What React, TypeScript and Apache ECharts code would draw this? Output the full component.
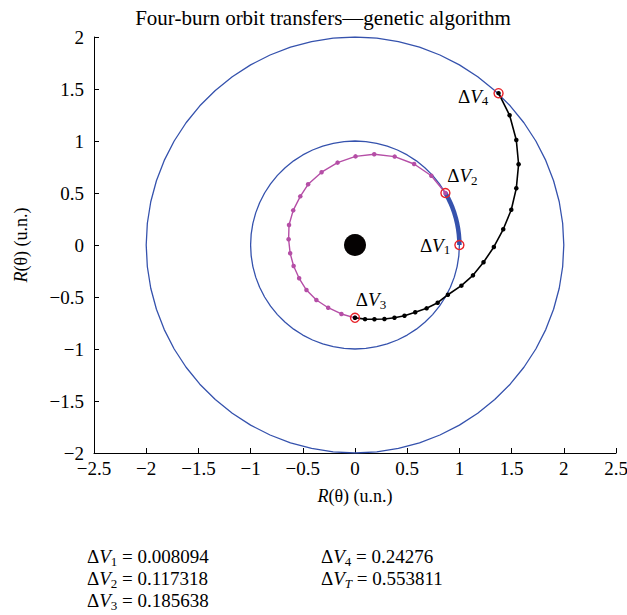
import React, { useEffect, useRef } from "react";
import * as echarts from "echarts";

// Orbits (radius, u.n.)
const orbitRadii = [1, 2];
// Initial coast arc on the inner orbit (degrees)
const coastAngles = [0, 30];

// First transfer (magenta)
const magX = [0.866, 0.731, 0.566, 0.38, 0.184, 0.005, -0.167, -0.32, -0.449, -0.524, -0.592, -0.632, -0.636, -0.621, -0.588, -0.535, -0.465, -0.37, -0.257, -0.13, 0];
const magY = [0.5, 0.666, 0.779, 0.85, 0.872, 0.852, 0.792, 0.7, 0.584, 0.468, 0.333, 0.192, 0.055, -0.08, -0.202, -0.32, -0.433, -0.529, -0.603, -0.663, -0.7];

// Second transfer (black)
const blkX = [0, 0.096, 0.186, 0.282, 0.378, 0.474, 0.577, 0.686, 0.792, 0.89, 1.019, 1.13, 1.231, 1.33, 1.42, 1.497, 1.545, 1.567, 1.545, 1.481, 1.375];
const blkY = [-0.7, -0.713, -0.714, -0.711, -0.699, -0.68, -0.647, -0.609, -0.555, -0.478, -0.391, -0.292, -0.166, -0.019, 0.151, 0.339, 0.545, 0.776, 1.01, 1.247, 1.46];

// Burn points
const burnNames = ["1", "2", "3", "4"];
const burnX = [1, 0.866, 0, 1.375];
const burnY = [0, 0.5, -0.7, 1.46];

// Delta-V results
const dvLabels = ["1", "2", "3", "4", "T"];
const dvValues = ["0.008094", "0.117318", "0.185638", "0.24276", "0.553811"];

const xTicks = { min: -2.5, max: 2.5, interval: 0.5 };
const yTicks = { min: -2, max: 2, interval: 0.5 };

const FONT = "Liberation Serif";
const INK = "#000";

function arcPoints(r: number, a0: number, a1: number, step: number) {
  const pts: number[][] = [];
  for (let a = a0; a <= a1 + 1e-9; a += step) {
    const t = (a * Math.PI) / 180;
    pts.push([r * Math.cos(t), r * Math.sin(t)]);
  }
  return pts;
}

const dvRich = {
  d: { fontFamily: FONT, fontSize: 19, color: INK, lineHeight: 22 },
  v: { fontFamily: FONT, fontSize: 19, fontStyle: "italic", color: INK, lineHeight: 22 },
  s: { fontFamily: FONT, fontSize: 13, color: INK, lineHeight: 10, verticalAlign: "bottom" },
  si: { fontFamily: FONT, fontSize: 13, fontStyle: "italic", color: INK, lineHeight: 10, verticalAlign: "bottom" },
  t: { fontFamily: FONT, fontSize: 19, color: INK, lineHeight: 22 },
};

function dvText(sub: string) {
  const subTok = sub === "T" ? "si" : "s";
  return `{d|Δ}{v|V}{${subTok}|${sub}}`;
}

const fmt = (v: number) => String(v).replace("-", "\u2212");

export default function App() {
  const ref = useRef<HTMLDivElement>(null);
  useEffect(() => {
    if (!ref.current) return;
    const chart = echarts.init(ref.current, undefined, { renderer: "svg" });

    const magData = magX.map((x, i) => [x, magY[i]]);
    const blkData = blkX.map((x, i) => [x, blkY[i]]);

    const labelPos: any[] = [
      { position: "left", distance: 4, offset: [0, 0] },
      { position: "top", distance: 1, offset: [17, 0] },
      { position: "top", distance: 2, offset: [16, 0] },
      { position: "left", distance: 5, offset: [0, 3] },
    ];

    const burnData = burnX.map((x, i) => ({
      value: [x, burnY[i]],
      label: {
        show: true,
        formatter: dvText(burnNames[i]),
        rich: dvRich,
        ...labelPos[i],
      },
    }));

    const orbitSeries = orbitRadii.map((r) => ({
      type: "line",
      data: arcPoints(r, 0, 360, 6),
      symbol: "none",
      lineStyle: { color: "#3552ad", width: 1.3 },
      z: 2,
      silent: true,
    }));

    const bottomTexts: any[] = dvLabels.map((s, i) => {
      const col = i < 3 ? 0 : 1;
      const row = i < 3 ? i : i - 3;
      return {
        type: "text",
        left: col === 0 ? 87 : 321,
        top: 547 + row * 22,
        style: {
          text: `${dvText(s)}{t| = ${dvValues[i]}}`,
          rich: dvRich,
        },
      };
    });

    const nameStyle = {
      fontFamily: FONT,
      fontSize: 18,
      color: INK,
      rich: { i: { fontFamily: FONT, fontSize: 18, fontStyle: "italic", color: INK } },
    };

    chart.setOption({
      animation: false,
      title: {
        text: "Four-burn orbit transfers\u2014genetic algorithm",
        left: 318,
        textAlign: "center",
        top: 2,
        textStyle: { fontFamily: FONT, fontSize: 21, fontWeight: "normal", color: INK },
      },
      grid: { left: 94, right: 11, top: 37, bottom: 162, containLabel: false, outerBoundsMode: "none" },
      xAxis: {
        type: "value",
        ...xTicks,
        name: "{i|R}(\u03b8) (u.n.)",
        nameLocation: "middle",
        nameGap: 34,
        nameTextStyle: nameStyle,
        axisLine: { onZero: false, lineStyle: { color: INK, width: 1 } },
        axisTick: { inside: true, length: 5, lineStyle: { color: INK } },
        axisLabel: { formatter: fmt, fontFamily: FONT, fontSize: 19, color: INK, margin: 6 },
        splitLine: { show: false },
      },
      yAxis: {
        type: "value",
        ...yTicks,
        name: "{i|R}(\u03b8) (u.n.)",
        nameLocation: "middle",
        nameGap: 64,
        nameRotate: 90,
        nameTextStyle: nameStyle,
        axisLine: { onZero: false, lineStyle: { color: INK, width: 1 } },
        axisTick: { inside: true, length: 5, lineStyle: { color: INK } },
        axisLabel: { formatter: fmt, fontFamily: FONT, fontSize: 19, color: INK, margin: 10 },
        splitLine: { show: false },
      },
      series: [
        ...orbitSeries,
        {
          type: "line",
          data: arcPoints(orbitRadii[0], coastAngles[0], coastAngles[1], 3),
          symbol: "none",
          lineStyle: { color: "#3552ad", width: 4.5 },
          z: 3,
          silent: true,
        },
        {
          type: "line",
          data: magData,
          symbol: "circle",
          symbolSize: 4.5,
          itemStyle: { color: "#b54ea6" },
          lineStyle: { color: "#b54ea6", width: 1.4 },
          z: 4,
          silent: true,
        },
        {
          type: "line",
          data: blkData,
          symbol: "circle",
          symbolSize: 4.5,
          itemStyle: { color: "#000" },
          lineStyle: { color: "#000", width: 1.6 },
          z: 4,
          silent: true,
        },
        {
          type: "scatter",
          data: [[0, 0]],
          symbol: "circle",
          symbolSize: 22,
          itemStyle: { color: "#050202", opacity: 1 },
          z: 5,
          silent: true,
        },
        {
          type: "scatter",
          data: burnData,
          symbol: "circle",
          symbolSize: 9,
          itemStyle: { color: "rgba(0,0,0,0)", borderColor: "#e8232a", borderWidth: 1.4, opacity: 1 },
          z: 6,
          silent: true,
        },
      ],
      graphic: bottomTexts,
    });

    return () => chart.dispose();
  }, []);

  return (
    <div
      ref={ref}
      style={{ position: "fixed", left: 0, top: 0, width: 627, height: 615, background: "#fff" }}
    />
  );
}
